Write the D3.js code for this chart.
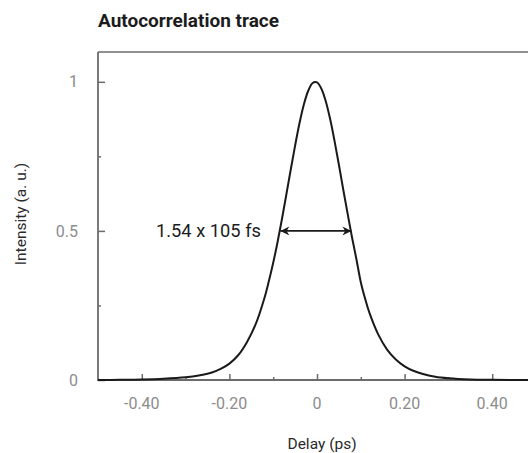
<!DOCTYPE html>
<html>
<head>
<meta charset="utf-8">
<script src="https://cdn.jsdelivr.net/npm/d3@7"></script>
<style>
  html, body { margin: 0; padding: 0; background: #fff; }
  svg { display: block; font-family: Roboto, "Noto Sans", sans-serif; }
</style>
</head>
<body>
<svg id="chart" width="528" height="453"></svg>
<script>
// ---- data ----
const delay = [-0.50,-0.45,-0.40,-0.35,-0.30,-0.27,-0.24,-0.22,-0.20,-0.18,-0.16,-0.14,-0.12,-0.11,-0.10,-0.09,-0.08,-0.07,-0.06,-0.05,-0.04,-0.03,-0.02,-0.01,0.00,0.01,0.02,0.03,0.04,0.05,0.06,0.07,0.08,0.09,0.10,0.11,0.12,0.14,0.16,0.18,0.20,0.22,0.24,0.27,0.30,0.35,0.40,0.45,0.50];
const intensity = [0.000,0.0005,0.0015,0.004,0.009,0.015,0.025,0.037,0.055,0.083,0.127,0.187,0.275,0.331,0.393,0.463,0.540,0.622,0.705,0.786,0.861,0.924,0.970,0.996,0.998,0.977,0.935,0.875,0.802,0.722,0.638,0.557,0.478,0.405,0.328,0.272,0.224,0.152,0.102,0.069,0.046,0.031,0.021,0.011,0.006,0.002,0.0008,0.0003,0.000];
const xMajorTicks = [-0.40,-0.20,0,0.20,0.40];
const xMinorTicks = [-0.30,-0.10,0.10,0.30];
const yMajorTicks = [0,0.5,1];
const yMinorTicks = [0.25,0.75];
const xTickLabels = ["-0.40","-0.20","0","0.20","0.40"];
const yTickLabels = ["0","0.5","1"];
const fwhmEnds = [-0.086, 0.081];
const fwhmLevel = [0.5];
const annotationText = ["1.54 x 105 fs"];
const titleText = "Autocorrelation trace";
const xLabelText = "Delay (ps)";
const yLabelText = "Intensity (a. u.)";

(function () {
// ---- layout ----
const svg = d3.select("#chart");
const mLeft = 98, mRight = 536, mTop = 52, mBottom = 380;
const x = d3.scaleLinear().domain([-0.5, 0.5]).range([mLeft, mRight]);
const y = d3.scaleLinear().domain([0, 1.1]).range([mBottom, mTop]);
const axisColor = "#6b6b6b";
const labelColor = "#8c8c8c";

// title
svg.append("text").attr("x", 98).attr("y", 27)
  .attr("font-size", 19).attr("font-weight", "bold").attr("fill", "#1c1c1c")
  .text(titleText);

// frame: top line
svg.append("line").attr("x1", mLeft).attr("x2", mRight).attr("y1", mTop).attr("y2", mTop)
  .attr("stroke", axisColor).attr("stroke-width", 1.6);

// x axis ticks
const gx = svg.append("g").attr("transform", `translate(0,${mBottom})`)
  .call(d3.axisTop(x).tickValues(xMajorTicks).tickSize(6).tickFormat(""));
gx.select(".domain").remove();
gx.selectAll(".tick line").attr("stroke", axisColor).attr("stroke-width", 1.5);
const gxm = svg.append("g").attr("transform", `translate(0,${mBottom})`)
  .call(d3.axisTop(x).tickValues(xMinorTicks).tickSize(3).tickFormat(""));
gxm.select(".domain").remove();
gxm.selectAll(".tick line").attr("stroke", axisColor).attr("stroke-width", 1.5);
svg.append("g").selectAll("text").data(xMajorTicks).join("text")
  .attr("x", d => x(d)).attr("y", 409)
  .attr("text-anchor", "middle").attr("font-size", 16).attr("fill", labelColor)
  .text((d, i) => xTickLabels[i]);

// y axis ticks
const gy = svg.append("g").attr("transform", `translate(${mLeft},0)`)
  .call(d3.axisRight(y).tickValues(yMajorTicks).tickSize(7).tickFormat(""));
gy.select(".domain").remove();
gy.selectAll(".tick line").attr("stroke", axisColor).attr("stroke-width", 1.5);
const gym = svg.append("g").attr("transform", `translate(${mLeft},0)`)
  .call(d3.axisRight(y).tickValues(yMinorTicks).tickSize(3).tickFormat(""));
gym.select(".domain").remove();
gym.selectAll(".tick line").attr("stroke", axisColor).attr("stroke-width", 1.5);
svg.append("g").selectAll("text").data(yMajorTicks).join("text")
  .attr("x", 78).attr("y", d => y(d)).attr("dy", "0.35em")
  .attr("text-anchor", "end").attr("font-size", 16).attr("fill", labelColor)
  .text((d, i) => yTickLabels[i]);

// axis lines (left + bottom)
svg.append("line").attr("x1", mLeft).attr("x2", mLeft).attr("y1", mTop).attr("y2", mBottom + 1)
  .attr("stroke", axisColor).attr("stroke-width", 1.8);
svg.append("line").attr("x1", mLeft).attr("x2", mRight).attr("y1", mBottom).attr("y2", mBottom)
  .attr("stroke", axisColor).attr("stroke-width", 1.8);

// axis titles
svg.append("text").attr("x", 322).attr("y", 449).attr("text-anchor", "middle")
  .attr("font-size", 15.5).attr("fill", "#2a2a2a").text(xLabelText);
svg.append("text").attr("transform", "translate(26,214) rotate(-90)")
  .attr("text-anchor", "middle").attr("font-size", 15.5).attr("fill", "#2a2a2a").text(yLabelText);

// curve
const pts = delay.map((d, i) => [d, intensity[i]]);
const line = d3.line().x(d => x(d[0])).y(d => y(d[1])).curve(d3.curveCatmullRom.alpha(0.5));
svg.append("path").datum(pts).attr("d", line)
  .attr("fill", "none").attr("stroke", "#1a1a1a").attr("stroke-width", 2);

// FWHM arrow
const defs = svg.append("defs");
["start", "end"].forEach(k => {
  defs.append("marker").attr("id", "arr-" + k)
    .attr("viewBox", "0 0 10 10").attr("refX", 10).attr("refY", 5)
    .attr("markerWidth", 6).attr("markerHeight", 5)
    .attr("markerUnits", "strokeWidth")
    .attr("orient", k === "start" ? "auto-start-reverse" : "auto")
    .append("path").attr("d", "M0,0 L10,5 L0,10 L3,5 Z").attr("fill", "#1a1a1a");
});
svg.append("line")
  .attr("x1", x(fwhmEnds[0]) + 1).attr("x2", x(fwhmEnds[1]) - 1)
  .attr("y1", y(fwhmLevel[0])).attr("y2", y(fwhmLevel[0]))
  .attr("stroke", "#1a1a1a").attr("stroke-width", 1.8)
  .attr("marker-start", "url(#arr-start)").attr("marker-end", "url(#arr-end)");

svg.append("text").attr("x", 156).attr("y", y(fwhmLevel[0])).attr("dy", "0.36em")
  .attr("font-size", 18.3).attr("fill", "#1c1c1c").text(annotationText[0]);
})();
</script>
</body>
</html>
